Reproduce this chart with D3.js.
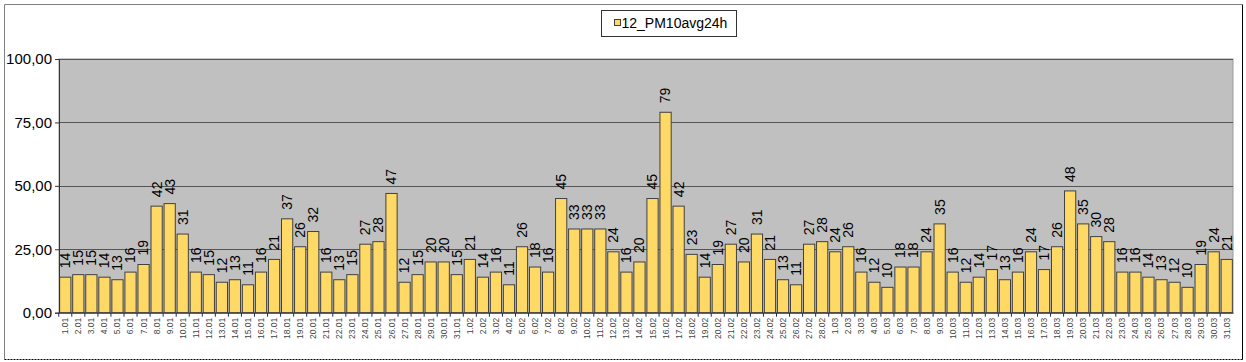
<!DOCTYPE html>
<html>
<head>
	<meta charset="utf-8">
	<style>
		body { margin: 0; background: #fff; }
		text { font-family: Arial, "Liberation Sans", sans-serif; }
	</style>
</head>
<body>
	<script src="https://d3js.org/d3.v7.min.js"></script>

	<script>
		const seriesName = '12_PM10avg24h';

		const days = [
			'1.01','2.01','3.01','4.01','5.01','6.01','7.01','8.01','9.01','10.01',
			'11.01','12.01','13.01','14.01','15.01','16.01','17.01','18.01','19.01','20.01',
			'21.01','22.01','23.01','24.01','25.01','26.01','27.01','28.01','29.01','30.01','31.01',
			'1.02','2.02','3.02','4.02','5.02','6.02','7.02','8.02','9.02','10.02',
			'11.02','12.02','13.02','14.02','15.02','16.02','17.02','18.02','19.02','20.02',
			'21.02','22.02','23.02','24.02','25.02','26.02','27.02','28.02',
			'1.03','2.03','3.03','4.03','5.03','6.03','7.03','8.03','9.03','10.03',
			'11.03','12.03','13.03','14.03','15.03','16.03','17.03','18.03','19.03','20.03',
			'21.03','22.03','23.03','24.03','25.03','26.03','27.03','28.03','29.03','30.03','31.03'
		];

		const values = [
			14, 15, 15, 14, 13, 16, 19, 42, 43, 31,
			16, 15, 12, 13, 11, 16, 21, 37, 26, 32,
			16, 13, 15, 27, 28, 47, 12, 15, 20, 20, 15,
			21, 14, 16, 11, 26, 18, 16, 45, 33, 33,
			33, 24, 16, 20, 45, 79, 42, 23, 14, 19,
			27, 20, 31, 21, 13, 11, 27, 28,
			24, 26, 16, 12, 10, 18, 18, 24, 35, 16,
			12, 14, 17, 13, 16, 24, 17, 26, 48, 35,
			30, 28, 16, 16, 14, 13, 12, 10, 19, 24, 21
		];

		const yTicks = [0, 25, 50, 75, 100];

		const W = 1246, H = 362;
		const plot = { left: 59, right: 1233, top: 59, bottom: 312.7 };

		const data = days.map((d, i) => ({ day: d, value: values[i] }));

		const svg = d3.select('body')
			.append('svg')
			.attr('width', W)
			.attr('height', H);

		// outer chart frame
		svg.append('line').attr('x1', 4.5).attr('x2', 1242.5).attr('y1', 4.5).attr('y2', 4.5)
			.attr('stroke', '#808080');
		svg.append('line').attr('x1', 4.5).attr('x2', 4.5).attr('y1', 4.5).attr('y2', 359.5)
			.attr('stroke', '#808080');
		svg.append('line').attr('x1', 1242.5).attr('x2', 1242.5).attr('y1', 4.5).attr('y2', 359.5)
			.attr('stroke', '#000');
		svg.append('line').attr('x1', 4.5).attr('x2', 1242.5).attr('y1', 359.5).attr('y2', 359.5)
			.attr('stroke', '#000').attr('stroke-dasharray', '2,1');

		const x = d3.scaleBand()
			.domain(days)
			.range([plot.left, plot.right])
			.paddingInner(0.14)
			.paddingOuter(0.05);

		const y = d3.scaleLinear()
			.domain([0, 100])
			.range([plot.bottom, plot.top]);

		const locale = d3.formatLocale({ decimal: ',', thousands: '.', grouping: [3], currency: ['', ''] });

		// plot background
		svg.append('rect')
			.attr('x', plot.left)
			.attr('y', plot.top)
			.attr('width', plot.right - plot.left)
			.attr('height', plot.bottom - plot.top)
			.attr('fill', '#c0c0c0')
			.attr('stroke', '#9a9a9a');

		// gridlines
		svg.append('g')
			.selectAll('line')
			.data(yTicks.filter(t => t > 0))
			.join('line')
			.attr('x1', plot.left)
			.attr('x2', plot.right)
			.attr('y1', d => Math.round(y(d)) + 0.5)
			.attr('y2', d => Math.round(y(d)) + 0.5)
			.attr('stroke', '#555');

		// bars
		svg.append('g')
			.selectAll('rect')
			.data(data)
			.join('rect')
			.attr('x', d => x(d.day))
			.attr('y', d => y(d.value))
			.attr('width', x.bandwidth())
			.attr('height', d => y(0) - y(d.value))
			.attr('fill', '#ffd966')
			.attr('stroke', '#404040')
			.attr('stroke-width', 1);

		// value labels
		svg.append('g')
			.selectAll('text')
			.data(data)
			.join('text')
			.attr('transform', d => `translate(${x(d.day) + x.bandwidth() / 2}, ${y(d.value) - 9}) rotate(-90)`)
			.attr('dy', '0.35em')
			.attr('text-anchor', 'start')
			.attr('font-size', 14)
			.attr('fill', '#000')
			.text(d => d.value);

		// y axis
		const yAxis = d3.axisLeft(y)
			.tickValues(yTicks)
			.tickSize(4)
			.tickPadding(3)
			.tickFormat(locale.format('.2f'));

		const gy = svg.append('g')
			.attr('transform', `translate(${plot.left}, 0)`)
			.call(yAxis);
		gy.select('.domain').attr('stroke', '#333');
		gy.selectAll('.tick line').attr('stroke', '#333');
		gy.selectAll('.tick text')
			.attr('font-size', 15)
			.attr('font-family', 'Arial, "Liberation Sans", sans-serif')
			.attr('fill', '#000');

		// x axis: labels under bars, ticks between bars
		const xAxis = d3.axisBottom(x)
			.tickSize(0)
			.tickSizeOuter(0)
			.tickPadding(0);

		const gx = svg.append('g')
			.attr('transform', `translate(0, ${plot.bottom})`)
			.call(xAxis);
		gx.select('.domain').attr('stroke', '#333');
		gx.selectAll('.tick text')
			.attr('transform', 'translate(0, 5) rotate(-90)')
			.attr('y', 0)
			.attr('dy', '0.35em')
			.attr('text-anchor', 'end')
			.attr('font-size', 8.5)
			.attr('font-family', 'Arial, "Liberation Sans", sans-serif')
			.attr('fill', '#444');

		const gap = x.step() * x.paddingInner() / 2;
		svg.append('g')
			.selectAll('line')
			.data(days)
			.join('line')
			.attr('x1', d => x(d) - gap)
			.attr('x2', d => x(d) - gap)
			.attr('y1', plot.bottom)
			.attr('y2', plot.bottom + 4)
			.attr('stroke', '#1f2a55');

		// legend
		const legend = svg.append('g').attr('transform', 'translate(601.5, 10.5)');
		legend.append('rect')
			.attr('width', 135)
			.attr('height', 26)
			.attr('fill', '#fff')
			.attr('stroke', '#333');
		legend.append('rect')
			.attr('x', 13)
			.attr('y', 9)
			.attr('width', 6)
			.attr('height', 6)
			.attr('fill', '#ffd966')
			.attr('stroke', '#404040');
		legend.append('text')
			.attr('x', 20)
			.attr('y', 13)
			.attr('dy', '0.35em')
			.attr('font-size', 14)
			.attr('fill', '#000')
			.text(seriesName);
	</script>

</body>
</html>
